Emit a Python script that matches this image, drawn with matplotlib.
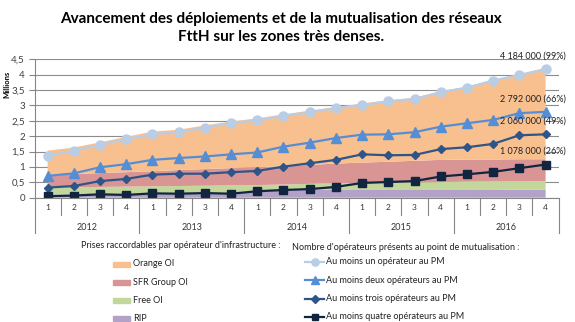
import matplotlib
matplotlib.use('Agg')
import matplotlib.pyplot as plt
from matplotlib.lines import Line2D
from matplotlib.patches import Rectangle
import numpy as np

plt.rcParams['font.family'] = ['Lato', 'DejaVu Sans']

W, H = 575, 322

quarters = ['1', '2', '3', '4'] * 5
years = ['2012', '2013', '2014', '2015', '2016']

# stacked areas, millions of lines per infrastructure operator
rip = [0.10, 0.10, 0.11, 0.11, 0.11, 0.12, 0.12, 0.12, 0.20, 0.24,
       0.26, 0.27, 0.27, 0.27, 0.27, 0.27, 0.27, 0.27, 0.26, 0.26]
free = [0.23, 0.24, 0.24, 0.25, 0.26, 0.26, 0.27, 0.28, 0.21, 0.19,
        0.19, 0.20, 0.22, 0.23, 0.23, 0.24, 0.25, 0.26, 0.27, 0.28]
sfr = [0.41, 0.43, 0.45, 0.47, 0.49, 0.52, 0.54, 0.56, 0.58, 0.60,
       0.62, 0.64, 0.65, 0.67, 0.70, 0.72, 0.72, 0.71, 0.72, 0.71]
orange = [0.79, 0.86, 1.00, 1.15, 1.29, 1.31, 1.42, 1.52, 1.59, 1.68,
          1.76, 1.84, 1.92, 2.00, 2.05, 2.23, 2.37, 2.59, 2.76, 2.96]

# operators present at the mutualisation point
op_one = [1.37, 1.53, 1.71, 1.90, 2.07, 2.13, 2.28, 2.42, 2.52, 2.66,
          2.78, 2.91, 3.02, 3.13, 3.21, 3.43, 3.58, 3.81, 3.99, 4.184]
op_two = [0.71, 0.79, 0.99, 1.09, 1.23, 1.29, 1.34, 1.41, 1.47, 1.66,
          1.79, 1.94, 2.05, 2.06, 2.13, 2.31, 2.42, 2.53, 2.75, 2.792]
op_three = [0.33, 0.38, 0.54, 0.61, 0.75, 0.78, 0.78, 0.83, 0.87, 1.01,
            1.12, 1.23, 1.41, 1.38, 1.39, 1.58, 1.64, 1.75, 2.03, 2.060]
op_four = [0.05, 0.07, 0.11, 0.09, 0.14, 0.13, 0.15, 0.13, 0.21, 0.25,
           0.28, 0.35, 0.48, 0.51, 0.54, 0.69, 0.76, 0.84, 0.96, 1.078]
last_pct = [99, 66, 49, 26]

area_names = ['RIP', 'Free OI', 'SFR Group OI', 'Orange OI']
area_cols = ['#b3a2c7', '#c3d69b', '#d99594', '#f9c08f']
line_names = ['Au moins un opérateur au PM', 'Au moins deux opérateurs au PM',
              'Au moins trois opérateurs au PM', 'Au moins quatre opérateurs au PM']
line_cols = ['#b9cde5', '#558ed5', '#2f5588', '#112540']
line_mk = ['o', '^', 'D', 's']
line_ms = [6.5, 6.5, 4.5, 6]


def px(x, y):
    return x / W, 1 - y / H


fig = plt.figure(figsize=(W / 100, H / 100), dpi=100)
x0, x1, y0, y1 = 34.5, 558.7, 59.3, 197.7
ax = fig.add_axes([x0 / W, 1 - y1 / H, (x1 - x0) / W, (y1 - y0) / H])

x = np.arange(len(quarters))
ax.stackplot(x, rip, free, sfr, orange, colors=area_cols, linewidth=0, zorder=2)
series = [op_one, op_two, op_three, op_four]
for s, c, m, ms in zip(series, line_cols, line_mk, line_ms):
    ax.plot(x, s, color=c, lw=1.6, marker=m, ms=ms, mec=c, zorder=3)

for s, p in zip(series, last_pct):
    v = int(round(s[-1] * 1000))
    txt = '%d %03d 000 (%d%%)' % (v // 1000, v % 1000, p)
    ax.text(18.5, s[-1] + 0.43, txt, ha='center', va='center', fontsize=6.5,
            color='#222222', clip_on=False, zorder=4)

ax.set_xlim(-0.5, 19.5)
ax.set_ylim(0, 4.5)
ax.set_yticks(np.arange(0, 4.6, 0.5))
ax.set_yticklabels([('%g' % v).replace('.', ',') for v in np.arange(0, 4.6, 0.5)],
                   fontsize=7, color='#404040')
ax.tick_params(axis='y', length=4, width=0.8, color='#868686', pad=3)
ax.set_xticks([])
ax.grid(axis='y', color='#8c8c8c', lw=0.8, zorder=0)
ax.set_axisbelow(True)
for sp in ['top', 'right']:
    ax.spines[sp].set_visible(False)
for sp in ['left', 'bottom']:
    ax.spines[sp].set_color('#868686')
    ax.spines[sp].set_linewidth(0.8)
    ax.spines[sp].set_zorder(5)

# category table under the axis
ah = y1 - y0
q_bot = -(215 - y1) / ah
y_bot = -(232.7 - y1) / ah
for i in range(len(quarters) + 1):
    xs = i - 0.5
    bot = y_bot if i % 4 == 0 else q_bot
    ax.plot([xs, xs], [0, bot], color='#868686', lw=0.8,
            transform=ax.get_xaxis_transform(), clip_on=False)
for i, q in enumerate(quarters):
    ax.text(i, -(208 - y1) / ah, q, ha='center', va='center', fontsize=6,
            color='#333333', transform=ax.get_xaxis_transform())
for j, yr in enumerate(years):
    ax.text(4 * j + 1.5, -(227 - y1) / ah, yr, ha='center', va='center',
            fontsize=6.5, color='#333333', transform=ax.get_xaxis_transform())

fig.text(*px(7, 84), 'Millions', rotation=90, ha='center', va='center',
         fontsize=5.5, fontweight='bold')
fig.text(*px(281, 28), 'Avancement des déploiements et de la mutualisation des réseaux\n'
         'FttH sur les zones très denses.', ha='center', va='center',
         fontsize=11, fontweight='bold', linespacing=1.3)

# legends drawn by hand
fig.text(*px(81, 246), "Prises raccordables par opérateur d'infrastructure :",
         ha='left', va='center', fontsize=6.5, color='#222222')
for k, (n, c) in enumerate(zip(area_names[::-1], area_cols[::-1])):
    yy = 264 + 18.3 * k
    fig.add_artist(Rectangle(px(113, yy + 2.5), 17 / W, 5 / H, color=c,
                             transform=fig.transFigure))
    fig.text(*px(133, yy), n, ha='left', va='center', fontsize=6.5, color='#222222')

fig.text(*px(292, 248), "Nombre d'opérateurs présents au point de mutualisation :",
         ha='left', va='center', fontsize=6.5, color='#222222')
for k, (n, c, m, ms) in enumerate(zip(line_names, line_cols, line_mk, line_ms)):
    yy = 262 + 18.3 * k
    xa, ya = px(305, yy)
    xb, _ = px(324, yy)
    fig.add_artist(Line2D([xa, xb], [ya, ya], color=c, lw=1.6,
                          transform=fig.transFigure))
    fig.add_artist(Line2D([(xa + xb) / 2], [ya], color=c, marker=m, ms=ms * 0.8,
                          mec=c, transform=fig.transFigure))
    fig.text(*px(326, yy), n, ha='left', va='center', fontsize=6.5, color='#222222')

fig.savefig('out.png', dpi=100)
